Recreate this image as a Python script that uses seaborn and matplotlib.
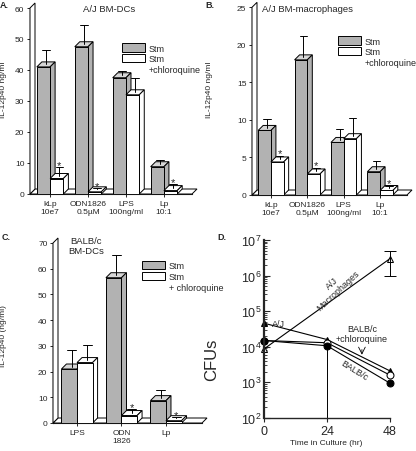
import numpy as np
import pandas as pd
import matplotlib
matplotlib.use("Agg")
import matplotlib.pyplot as plt
import seaborn as sns
from matplotlib.patches import Polygon, Patch, Rectangle

sns.set_theme(style="ticks")
plt.rcParams["font.family"] = ["Liberation Sans", "DejaVu Sans"]
plt.rcParams["mathtext.default"] = "regular"

# ---------------- data ----------------
cats_A = ["kLp\n10e7", "ODN1826\n0.5µM", "LPS\n100ng/ml", "Lp\n10:1"]
stm_A = [41.0, 47.5, 37.5, 8.8]
stm_A_err = [4.6, 6.2, 1.5, 1.3]
chl_A = [5.0, 0.7, 32.0, 1.1]
chl_A_err = [2.8, 0.3, 4.6, 1.3]
star_A = [True, True, False, True]

cats_B = ["kLp\n10e7", "ODN1826\n0.5µM", "LPS\n100ng/ml", "Lp\n10:1"]
stm_B = [8.6, 18.0, 7.0, 3.1]
stm_B_err = [1.2, 2.8, 1.5, 1.1]
chl_B = [4.4, 2.8, 7.5, 0.6]
chl_B_err = [0.5, 0.5, 2.4, 0.3]
star_B = [True, True, False, True]

cats_C = ["LPS", "ODN\n1826", "Lp"]
stm_C = [21.0, 56.5, 8.7]
stm_C_err = [6.5, 8.0, 3.2]
chl_C = [23.5, 2.9, 0.9]
chl_C_err = [5.8, 1.6, 0.3]
star_C = [False, True, True]

times = [0, 24, 48]
cfu_AJ = [4.6e4, 1.6e4, 2.1e3]
cfu_BALBc_cq = [1.5e4, 1.3e4, 1.6e3]
cfu_BALBc = [1.5e4, 1.07e4, 9.5e2]
mac_times = [0, 48]
cfu_AJ_mac = [8.7e3, 3.0e6]
mac_err_lo = [0.0, 2.0e6]
mac_err_hi = [0.0, 2.0e6]

GRAY = "#b2b2b2"
FW, FH = 416, 452
DEPTH = 5  # px

fig = plt.figure(figsize=(FW / 100, FH / 100), dpi=100)


def add_ax(left, top_px, bottom_px, width):
    return fig.add_axes([left / FW, (FH - bottom_px) / FH, width / FW, (bottom_px - top_px) / FH])


def bar_panel(ax, cats, stm, stm_err, chl, chl_err, stars, ymax, ystep, xlim):
    n = len(cats)
    df = pd.DataFrame({"cat": cats * 2, "val": stm + chl,
                       "trt": ["Stm"] * n + ["Stm+chloroquine"] * n})
    sns.barplot(data=df, x="cat", y="val", hue="trt", palette=[GRAY, "white"],
                width=0.7, edgecolor="black", linewidth=0.7, errorbar=None,
                legend=False, saturation=1, ax=ax)
    bars = sorted([p for p in ax.patches if isinstance(p, Rectangle)],
                  key=lambda p: p.get_x())
    ax.set_xlim(*xlim)
    ax.set_ylim(0, ymax)
    ax.set_yticks(np.arange(0, ymax + 0.1, ystep))
    ax.set_xlabel("")
    for s in ["top", "right"]:
        ax.spines[s].set_visible(False)
    for s in ["left", "bottom"]:
        ax.spines[s].set_linewidth(0.8)
        ax.spines[s].set_zorder(1)
    ax.tick_params(axis="both", direction="out", length=2.5, width=0.7, labelsize=6, pad=1.5)

    tr = ax.transData + ax.transAxes.inverted()
    pos = ax.get_position()
    dx = DEPTH / (pos.width * FW)
    dy = DEPTH / (pos.height * FH)
    # floor and wall
    ax.add_patch(Polygon([(0, 0), (1, 0), (1 + dx, dy), (dx, dy)], closed=True,
                         transform=ax.transAxes, fc="white", ec="black", lw=0.7,
                         zorder=2, clip_on=False))
    ax.add_patch(Polygon([(0, 0), (0, 1), (dx, 1 + dy), (dx, dy)], closed=True,
                         transform=ax.transAxes, fc="white", ec="black", lw=0.7,
                         zorder=2, clip_on=False))
    vals, errs, strs = [], [], []
    for i in range(n):
        vals += [stm[i], chl[i]]
        errs += [stm_err[i], chl_err[i]]
        strs += [False, stars[i]]
    for i, p in enumerate(bars):
        z = 3 + i * 0.1
        x0, y0 = tr.transform((p.get_x(), 0))
        x1, y1 = tr.transform((p.get_x() + p.get_width(), p.get_height()))
        fc = p.get_facecolor()
        p.set_zorder(z + 0.05)
        top_fc = "#d6d6d6" if fc[0] < 0.9 else "white"
        ax.add_patch(Polygon([(x0, y1), (x1, y1), (x1 + dx, y1 + dy), (x0 + dx, y1 + dy)],
                             closed=True, transform=ax.transAxes, fc=top_fc, ec="black",
                             lw=0.7, zorder=z, clip_on=False))
        ax.add_patch(Polygon([(x1, y0), (x1, y1), (x1 + dx, y1 + dy), (x1 + dx, y0 + dy)],
                             closed=True, transform=ax.transAxes, fc=fc, ec="black",
                             lw=0.7, zorder=z, clip_on=False))
        xc = (x0 + x1) / 2 + dx / 2
        yb = y1 + dy / 2
        yt = tr.transform((0, vals[i] + errs[i]))[1] + dy / 2
        cw = (x1 - x0) * 0.28
        ax.plot([xc, xc], [yb, yt], transform=ax.transAxes, color="black", lw=0.7,
                zorder=10, clip_on=False)
        ax.plot([xc - cw, xc + cw], [yt, yt], transform=ax.transAxes, color="black",
                lw=0.7, zorder=10, clip_on=False)
        if strs[i]:
            ax.text(xc, yt + 0.012, "*", transform=ax.transAxes, ha="center", va="center",
                    fontsize=8, zorder=11)


def add_legend(ax, x, y, third):
    handles = [Patch(fc=GRAY, ec="black", lw=0.7), Patch(fc="white", ec="black", lw=0.7),
               Patch(fc="none", ec="none")]
    ax.legend(handles, ["Stm", "Stm", third], loc="upper left", bbox_to_anchor=(x, y),
              frameon=False, fontsize=6.5, handlelength=2.5, handleheight=1.05,
              handletextpad=0.4, labelspacing=0.15, borderpad=0, borderaxespad=0)


# ---------------- panel A ----------------
axA = add_ax(30, 9, 195, 162)
bar_panel(axA, cats_A, stm_A, stm_A_err, chl_A, chl_A_err, star_A, 60, 10, (-0.53, 3.74))
axA.set_ylabel("IL-12p40 ng/ml", fontsize=6)
axA.yaxis.set_label_coords(-0.145, 0.565)
axA.text(0.49, 0.995, "A/J BM-DCs", transform=axA.transAxes, ha="center", va="center",
         fontsize=6.8)
add_legend(axA, 0.568, 0.81, "+chloroquine")

# ---------------- panel B ----------------
axB = add_ax(252, 8.3, 196, 155)
bar_panel(axB, cats_B, stm_B, stm_B_err, chl_B, chl_B_err, star_B, 25, 5, (-0.52, 3.74))
axB.set_ylabel("IL-12p40 ng/ml", fontsize=6)
axB.yaxis.set_label_coords(-0.25, 0.565)
axB.text(0.36, 0.996, "A/J BM-macrophages", transform=axB.transAxes, ha="center",
         va="center", fontsize=6.8)
add_legend(axB, 0.555, 0.845, "+chloroquine")

# ---------------- panel C ----------------
axC = add_ax(53, 244, 424, 149)
bar_panel(axC, cats_C, stm_C, stm_C_err, chl_C, chl_C_err, star_C, 70, 10, (-0.54, 2.81))
axC.set_ylabel("IL-12p40 (ng/ml)", fontsize=6)
axC.yaxis.set_label_coords(-0.31, 0.49)
axC.text(0.22, 0.985, "BALB/c\nBM-DCs", transform=axC.transAxes, ha="center",
         va="center", fontsize=6.8)
add_legend(axC, 0.6, 0.9, "+ chloroquine")

# ---------------- panel D ----------------
axD = add_ax(264, 241, 419, 126)
line_kw = dict(color="black", lw=0.8, ax=axD, markersize=5, markeredgecolor="black",
               clip_on=False)
sns.lineplot(x=mac_times, y=cfu_AJ_mac, marker="^", markerfacecolor="white", **line_kw)
sns.lineplot(x=times, y=cfu_AJ, marker="^", markerfacecolor="black", **line_kw)
sns.lineplot(x=times, y=cfu_BALBc_cq, marker="o", markerfacecolor="white", **line_kw)
sns.lineplot(x=times, y=cfu_BALBc, marker="o", markerfacecolor="black", **line_kw)
axD.errorbar(mac_times[1:], cfu_AJ_mac[1:], yerr=[mac_err_lo[1:], mac_err_hi[1:]],
             fmt="none", ecolor="black", elinewidth=0.7, capsize=4, capthick=0.7,
             clip_on=False)
axD.set_yscale("log")
axD.set_ylim(1e2, 1e7)
axD.set_xlim(0, 48)
axD.set_xticks(times)
lowest = np.min([cfu_AJ, cfu_BALBc_cq, cfu_BALBc], axis=0)
axD.vlines(times[1:], 1e2, lowest[1:], color="black", lw=0.7)
for s in ["top", "right"]:
    axD.spines[s].set_visible(False)
axD.spines["left"].set_linewidth(1.6)
axD.spines["bottom"].set_linewidth(1.0)
axD.tick_params(axis="y", which="major", direction="in", length=4, width=0.8,
                labelsize=9, pad=2)
axD.tick_params(axis="y", which="minor", direction="in", length=2.5, width=0.6)
axD.tick_params(axis="x", direction="out", length=3, width=0.8, labelsize=9, pad=2)
axD.set_ylabel("CFUs", fontsize=12)
axD.yaxis.set_label_coords(-0.36, 0.33)
axD.set_xlabel("Time in Culture (hr)", fontsize=6)
axD.xaxis.set_label_coords(0.49, -0.12)
axD.text(3.2, 4.6e4, "A/J", ha="left", va="center", fontsize=6.5)
axD.text(27, 5.0e5, "A/J\nMacrophages", ha="center", va="center", fontsize=6.5,
         rotation=43, linespacing=1.1)
axD.text(37.3, 2.4e4, "BALB/c\n+chloroquine", ha="center", va="center", fontsize=6.5,
         linespacing=1.1)
axD.annotate("", xy=(37.3, 5.0e3), xytext=(37.3, 1.0e4),
             arrowprops=dict(arrowstyle="->", color="black", lw=0.6))
axD.text(34.5, 2.2e3, "BALB/c", ha="center", va="center", fontsize=6.5, rotation=-32)

# ---------------- panel letters ----------------
for lbl, x, y in [("A.", 0, 5), ("B.", 205, 5), ("C.", 2, 238), ("D.", 217, 238)]:
    fig.text(x / FW, 1 - y / FH, lbl, ha="left", va="center", fontsize=6.5,
             fontweight="bold")

fig.savefig("out.png", dpi=100)
